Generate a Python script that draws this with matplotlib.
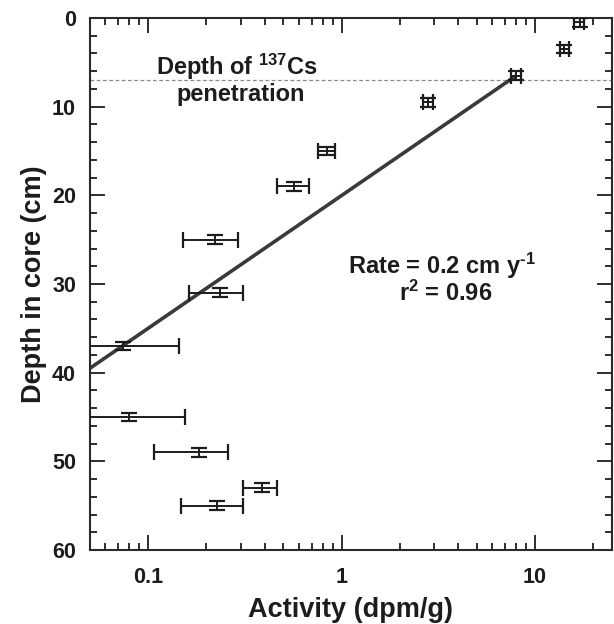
import matplotlib
matplotlib.use("Agg")
import matplotlib.pyplot as plt
import matplotlib.ticker as ticker

plt.rcParams["font.family"] = ["Liberation Sans", "DejaVu Sans"]
plt.rcParams["font.weight"] = "bold"
plt.rcParams["mathtext.fontset"] = "custom"
plt.rcParams["mathtext.rm"] = "Liberation Sans:bold"
plt.rcParams["mathtext.it"] = "Liberation Sans:bold"
plt.rcParams["mathtext.bf"] = "Liberation Sans:bold"

# measured profile (depth in cm, activity in dpm/g)
depth = [0.5, 3.5, 6.5, 9.5, 15, 19, 25, 31, 37, 45, 49, 53, 55]
activity = [17.0, 14.2, 8.0, 2.8, 0.84, 0.57, 0.222, 0.236, 0.074, 0.080, 0.182, 0.388, 0.228]
activity_err = [1.0, 0.8, 0.45, 0.17, 0.085, 0.105, 0.07, 0.074, 0.07, 0.075, 0.075, 0.078, 0.081]
depth_err = [0.5] * len(depth)

# regression line end points
fit_activity = [0.05, 8.0]
fit_depth = [39.5, 6.5]

cs_depth = 7.0
x_ticks = [0.1, 1, 10]
x_ticklabels = ["0.1", "1", "10"]
y_ticks = [0, 10, 20, 30, 40, 50, 60]

ink = "#1c1c1c"

fig = plt.figure(figsize=(6.14, 6.24), dpi=100)
ax = fig.add_axes([0.1466, 0.1186, 0.8501, 0.8526])

ax.set_xscale("log")
ax.set_xlim(0.05, 25)
ax.set_ylim(60, 0)

ax.axhline(cs_depth, color="#8a8a8a", lw=0.9, ls=(0, (3, 2)), zorder=1)
ax.plot(fit_activity, fit_depth, color="#3a3a3a", lw=2.6, solid_capstyle="butt", zorder=2)
ax.errorbar(activity, depth, xerr=activity_err, yerr=depth_err, fmt="none",
            ecolor=ink, elinewidth=1.4, capsize=6, capthick=1.6, zorder=3)

ax.text(0.288, 5.5, r"Depth of $^{137}$Cs", ha="center", va="center",
        fontsize=17, fontweight="bold", color=ink)
ax.text(0.30, 8.6, "penetration", ha="center", va="center",
        fontsize=17, fontweight="bold", color=ink)
ax.text(3.3, 28.0, r"Rate = 0.2 cm y$^{\text{-1}}$", ha="center", va="center",
        fontsize=17, fontweight="bold", color=ink)
ax.text(3.45, 31.1, r"r$^{2}$ = 0.96", ha="center", va="center",
        fontsize=17, fontweight="bold", color=ink)

ax.xaxis.set_major_locator(ticker.FixedLocator(x_ticks))
ax.xaxis.set_major_formatter(ticker.FixedFormatter(x_ticklabels))
ax.xaxis.set_minor_locator(ticker.LogLocator(base=10, subs=range(2, 10), numticks=20))
ax.xaxis.set_minor_formatter(ticker.NullFormatter())
ax.set_yticks(y_ticks)
ax.yaxis.set_minor_locator(ticker.MultipleLocator(2))

ax.tick_params(which="both", direction="in", top=True, right=True, colors=ink,
               width=1.3)
ax.tick_params(which="major", length=11, labelsize=15.5)
ax.tick_params(which="minor", length=4.8)
ax.tick_params(axis="y", which="major", pad=10)
ax.tick_params(axis="x", which="major", pad=12)
for lab in ax.get_xticklabels() + ax.get_yticklabels():
    lab.set_fontweight("bold")

for sp in ax.spines.values():
    sp.set_linewidth(1.5)
    sp.set_color("#2a2a2a")

ax.set_xlabel("Activity (dpm/g)", fontsize=19.5, fontweight="bold", color=ink, labelpad=7)
ax.set_ylabel("Depth in core (cm)", fontsize=19.5, fontweight="bold", color=ink, labelpad=4)

fig.savefig("out.png", dpi=100)
